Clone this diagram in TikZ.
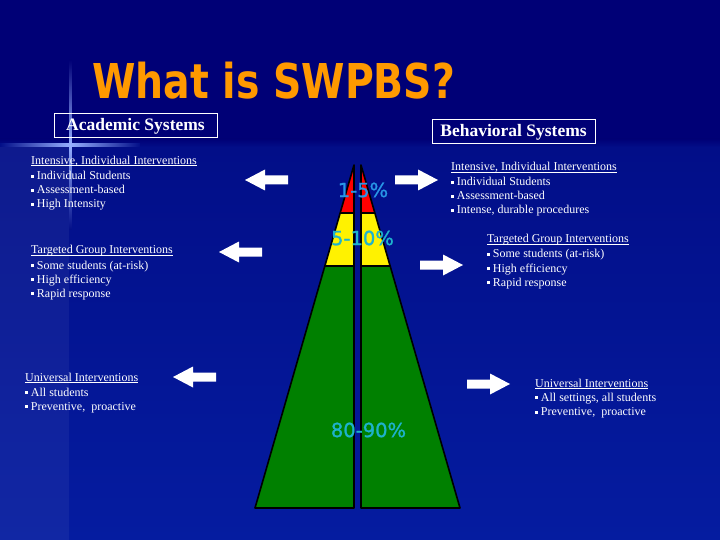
\documentclass[tikz,border=0pt]{standalone}
\usepackage{graphicx}
\usepackage{fontspec}
\setmainfont{Liberation Serif}
\newfontfamily\ttlfont{DejaVu Sans}
\newfontfamily\pctfont[FakeBold=1.2]{DejaVu Sans}
\usetikzlibrary{calc}
\definecolor{bgtop}{RGB}{0,0,118}
\definecolor{bglowA}{RGB}{2,14,136}
\definecolor{bglowB}{RGB}{5,28,160}
\definecolor{flare}{RGB}{150,175,255}
\definecolor{ttl}{RGB}{255,153,0}
\definecolor{pctA}{RGB}{40,150,230}
\definecolor{pctB}{RGB}{30,178,205}
\definecolor{tgreen}{RGB}{0,128,0}
\newcommand\bul{\rule[0.15em]{0.26em}{0.26em}\hspace{0.22em}}
\newcommand\hdul[1]{\setbox0\hbox{#1}\rlap{\rule[-1.6pt]{\wd0}{0.8pt}}\box0}
\tikzset{
  txt/.style={anchor=base west, inner sep=0, text=white, font=\fontsize{12}{14}\selectfont},
  sysbox/.style={draw=white, line width=1pt, inner sep=0, text=white, minimum width=163, minimum height=24, font=\bfseries\fontsize{17.5}{20}\selectfont},
  pctlbl/.style={inner sep=0, text=pctB, font=\pctfont\fontsize{19.5}{22}\selectfont},
  outl/.style={draw=black, line width=1.6pt, line join=round},
  blockarrow/.pic={\fill[white] (0,0) -- (20,-10.5) -- (20,-4.5) -- (43,-4.5) -- (43,4.5) -- (20,4.5) -- (20,10.5) -- cycle;}
}
\begin{document}
\begin{tikzpicture}[x=1pt,y=-1pt]
\useasboundingbox (0,0) rectangle (720,540);
% background
\fill[bgtop] (0,0) rectangle (720,540);
\shade[top color=bglowA, bottom color=bglowB] (0,147) rectangle (720,540);
\shade[top color=bgtop, bottom color=bglowA] (0,139) rectangle (720,147);
\fill[white, opacity=0.05] (0,145) rectangle (69,540);
\shade[top color=bgtop, bottom color=bglowA, middle color=flare] (69,60) rectangle (71.5,230);
\shade[left color=bglowA, right color=bglowA, middle color=flare] (0,144) rectangle (140,146.5);
% title
\node[anchor=base west, inner sep=0, text=ttl] (title) at (92,99) {\scalebox{0.82}[1]{\ttlfont\bfseries\fontsize{48}{48}\selectfont What is SWPBS?}};
% system boxes
\node[sysbox] (acad) at (135.5,126) {Academic Systems};
\node[sysbox] (behav) at (513.5,132) {Behavioral Systems};
% triangle
\coordinate (LA) at (354,165); \coordinate (LB) at (255,508); \coordinate (LC) at (354,508);
\coordinate (RA) at (361,165); \coordinate (RB) at (460,508); \coordinate (RC) at (361,508);
\coordinate (Lr) at ($(LA)!0.14!(LB)$); \coordinate (Ly) at ($(LA)!0.2945!(LB)$);
\coordinate (Rr) at ($(RA)!0.14!(RB)$); \coordinate (Ry) at ($(RA)!0.2945!(RB)$);
\coordinate (Lri) at (354,213); \coordinate (Lyi) at (354,266);
\coordinate (Rri) at (361,213); \coordinate (Ryi) at (361,266);
\fill[red] (LA) -- (Lr) -- (Lri) -- cycle;
\fill[yellow] (Lr) -- (Ly) -- (Lyi) -- (Lri) -- cycle;
\fill[tgreen] (Ly) -- (LB) -- (LC) -- (Lyi) -- cycle;
\fill[red] (RA) -- (Rr) -- (Rri) -- cycle;
\fill[yellow] (Rr) -- (Ry) -- (Ryi) -- (Rri) -- cycle;
\fill[tgreen] (Ry) -- (RB) -- (RC) -- (Ryi) -- cycle;
\draw[outl] (LA) -- (LB) -- (LC) -- cycle;
\draw[outl] (RA) -- (RB) -- (RC) -- cycle;
\draw[outl] (Lr) -- (Lri) (Ly) -- (Lyi) (Rr) -- (Rri) (Ry) -- (Ryi);
% percent labels
\node[pctlbl, text=pctA] (p1) at (363,190) {1-5\%};
\node[pctlbl] (p2) at (362.5,238) {5-10\%};
\node[pctlbl] (p3) at (368.5,430) {80-90\%};
% arrows
\pic (a1) at (245,180) {blockarrow};
\pic (a2) at (219,252) {blockarrow};
\pic (a3) at (173,377) {blockarrow};
\pic[xscale=-1] (a4) at (438,180) {blockarrow};
\pic[xscale=-1] (a5) at (463,265) {blockarrow};
\pic[xscale=-1] (a6) at (510,384) {blockarrow};
% left texts
\node[txt] (l1h) at (31,164.5) {\hdul{Intensive, Individual Interventions}};
\node[txt] (l1a) at (31,179.5) {\bul Individual Students};
\node[txt] (l1b) at (31,193.5) {\bul Assessment-based};
\node[txt] (l1c) at (31,207.5) {\bul High Intensity};
\node[txt] (l2h) at (31,254) {\hdul{Targeted Group Interventions}};
\node[txt] (l2a) at (31,269) {\bul Some students (at-risk)};
\node[txt] (l2b) at (31,283) {\bul High efficiency};
\node[txt] (l2c) at (31,297) {\bul Rapid response};
\node[txt] (l3h) at (25,381) {\hdul{Universal Interventions}};
\node[txt] (l3a) at (25,396) {\bul All students};
\node[txt] (l3b) at (25,410) {\bul Preventive,\ \ proactive};
% right texts
\node[txt] (r1h) at (451,171) {\hdul{Intensive, Individual Interventions}};
\node[txt] (r1a) at (451,186) {\bul Individual Students};
\node[txt] (r1b) at (451,200) {\bul Assessment-based};
\node[txt] (r1c) at (451,214) {\bul Intense, durable procedures};
\node[txt] (r2h) at (487,243) {\hdul{Targeted Group Interventions}};
\node[txt] (r2a) at (487,258) {\bul Some students (at-risk)};
\node[txt] (r2b) at (487,272) {\bul High efficiency};
\node[txt] (r2c) at (487,286) {\bul Rapid response};
\node[txt] (r3h) at (535,387) {\hdul{Universal Interventions}};
\node[txt] (r3a) at (535,401) {\bul All settings, all students};
\node[txt] (r3b) at (535,415.5) {\bul Preventive,\ \ proactive};
\end{tikzpicture}
\end{document}
